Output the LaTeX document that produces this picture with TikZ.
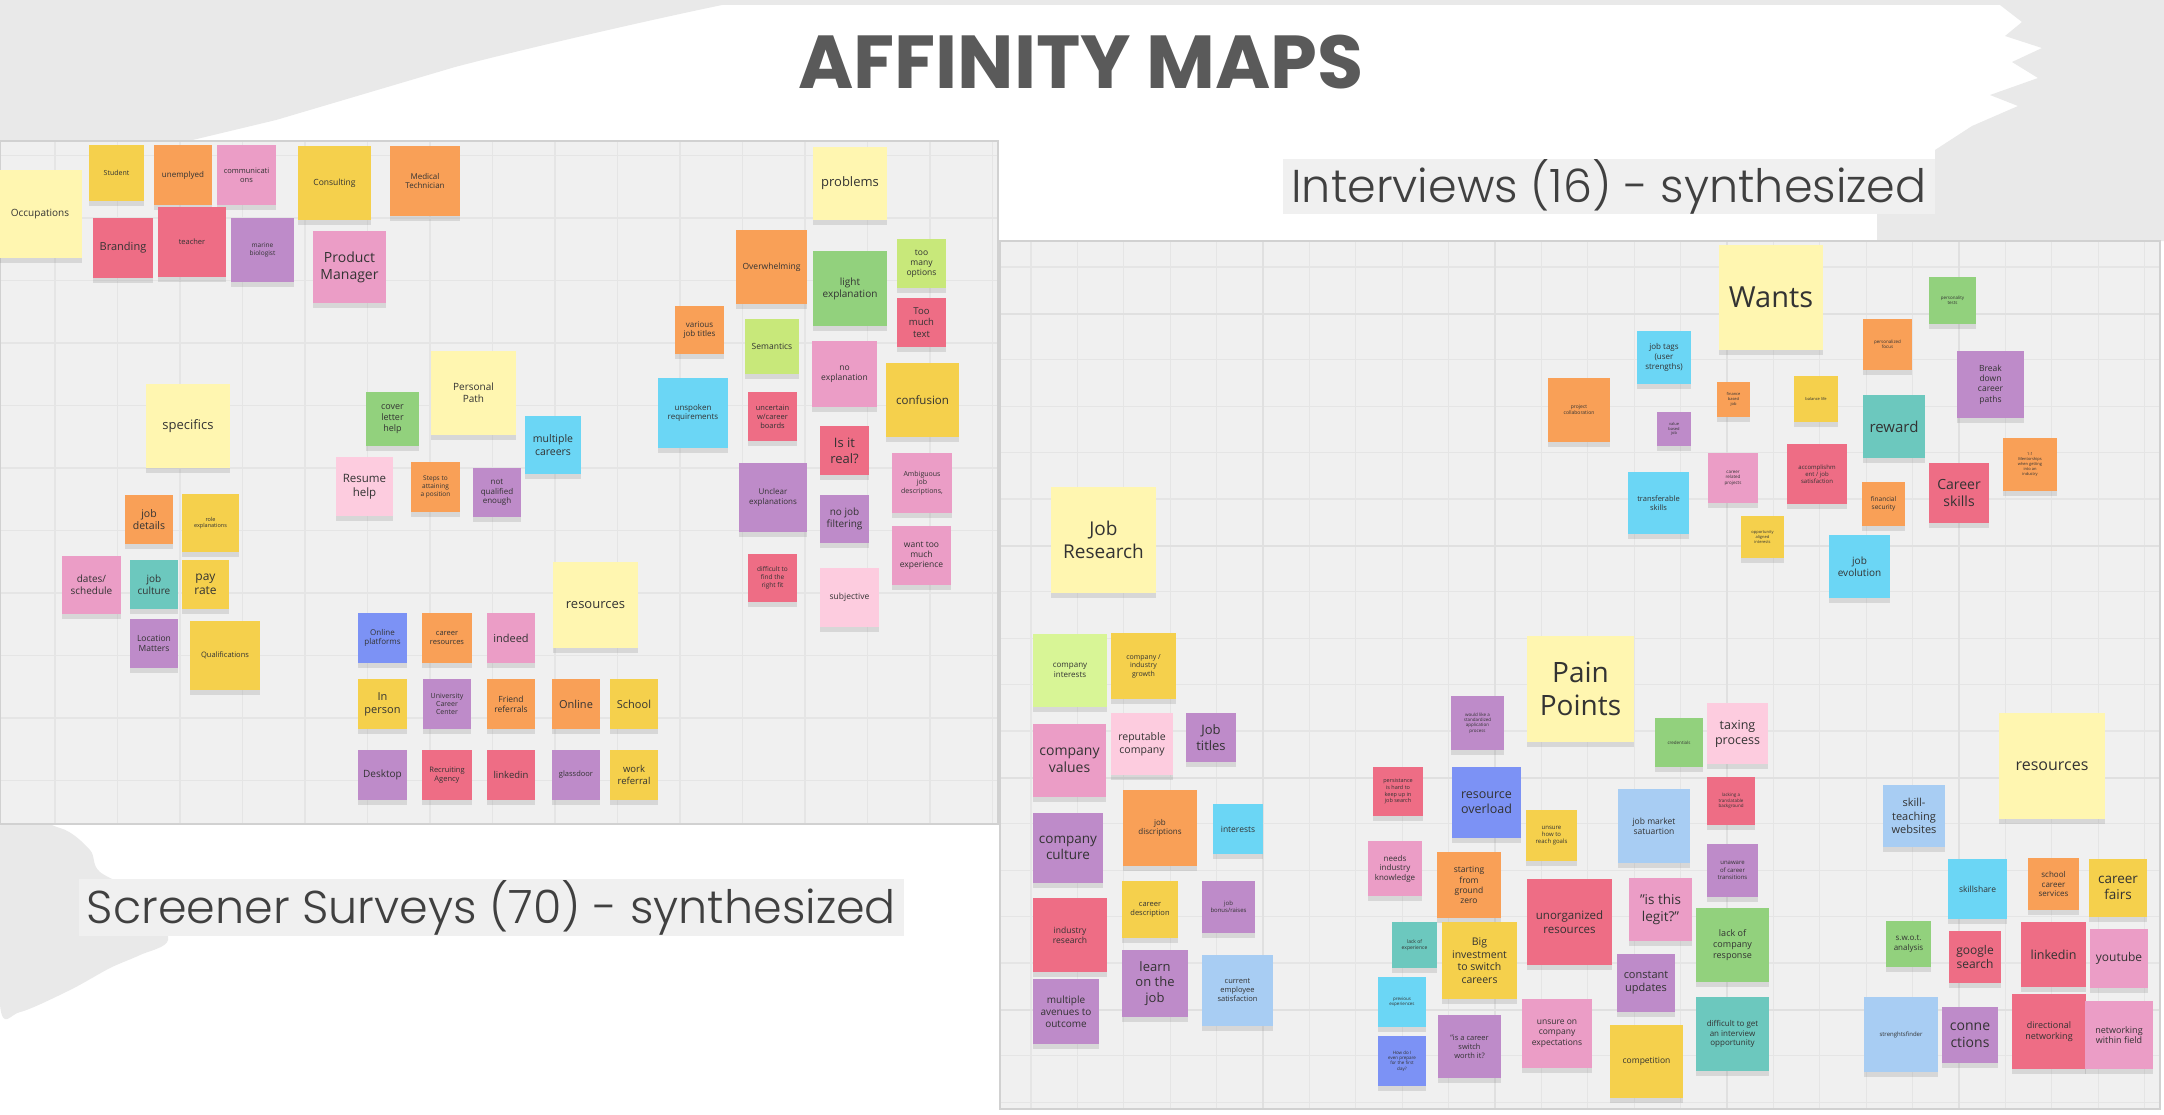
\documentclass[tikz,border=0pt]{standalone}
\usepackage{fontspec}
\setmainfont{Open Sans}
\newfontfamily\titlefont{Poppins}
\IfFontExistsTF{Poppins Light}{\newfontfamily\subfont{Poppins Light}}{\newfontfamily\subfont{Poppins}}
\usetikzlibrary{shadows}
\newcommand\fz[1]{\fontsize{\fpeval{#1*0.2845}pt}{\fpeval{#1*0.2845*1.2}pt}\selectfont}
\definecolor{lyel}{HTML}{FFF6B0}
\definecolor{yel}{HTML}{F5D04C}
\definecolor{ora}{HTML}{F9A057}
\definecolor{pnk}{HTML}{EB9DC6}
\definecolor{cor}{HTML}{EE6D85}
\definecolor{pur}{HTML}{BE8BC9}
\definecolor{grn}{HTML}{92D17D}
\definecolor{lim}{HTML}{C8E87A}
\definecolor{llim}{HTML}{D8F596}
\definecolor{cya}{HTML}{6BD6F5}
\definecolor{tea}{HTML}{6CC8BE}
\definecolor{lblu}{HTML}{A8CDF3}
\definecolor{peri}{HTML}{7C92F5}
\definecolor{lpnk}{HTML}{FDCCDF}
\definecolor{bgg}{HTML}{E9E9E9}
\definecolor{brd}{HTML}{F0F0F0}
\definecolor{ink}{HTML}{5A5A5A}
\tikzset{
  note/.style={align=center,inner sep=1pt,text=black!80,
    drop shadow={shadow xshift=0pt,shadow yshift=-1.4pt,opacity=.22}},
  wh/.style 2 args={minimum width=#1*0.01cm,minimum height=#2*0.01cm},
  fz/.style={font=\fz{#1}},
  gridl/.style={draw=black!10,line width=0.3pt},
  gridm/.style={draw=black!12,line width=0.4pt},
  lab/.style={fill=brd,inner sep=0pt,text=black!75,font={\subfont\fz{46}}}
}
\begin{document}
\begin{tikzpicture}[x=0.01cm,y=-0.01cm]
\useasboundingbox (0,0) rectangle (2164,1114);
\fill[white] (0,0) rectangle (2164,1114);
\fill[bgg] (0,0) rectangle (2164,5);
\fill[bgg] (0,0) -- (722,0) -- (722,5) .. controls (640,22) and (520,50) .. (455,67)
  -- (276,120) -- (180,143) -- (0,143) -- cycle;
\fill[bgg] (2000,0) -- (2000,5) -- (2022,22) -- (2005,36) -- (2042,48) -- (2012,62)
  -- (2038,78) -- (1990,95) -- (2018,106) -- (1972,126) -- (1935,150) -- (1935,214)
  -- (1877,214) -- (1877,241) -- (2164,241) -- (2164,0) -- cycle;
\fill[bgg] plot[smooth cycle] coordinates {(0,826) (60,828) (90,850) (100,872)
  (150,900) (168,940) (140,955) (110,968) (70,990) (20,1012) (0,1005)};
\fill[brd] (0,141) rectangle (998,824);
\foreach \gx in {55,117.5,...,998} \draw[gridl] (\gx,141) -- (\gx,824);
\foreach \gy in {155.5,218,...,824} \draw[gridl] (0,\gy) -- (998,\gy);
\draw[black!18] (0,141) rectangle (998,824);
\fill[brd] (1000,241) rectangle (2160,1109);
\foreach \gx in {1031,1077.4,...,2160} \draw[gridl] (\gx,241) -- (\gx,1109);
\foreach \gy in {267,313.4,...,1109} \draw[gridl] (1000,\gy) -- (2160,\gy);
\foreach \gx in {1263,1495,1727,1959} \draw[gridm] (\gx,241) -- (\gx,1109);
\foreach \gy in {314,546,778,1010} \draw[gridm] (1000,\gy) -- (2160,\gy);
\draw[black!18] (1000,241) rectangle (2160,1109);
\node[text=ink,font={\titlefont\bfseries\fz{75}}] (title) at (1081,62) {AFFINITY MAPS};
\node[lab,wh={652}{55}] (intlab) at (1609,186.5) {Interviews (16) - synthesized};
\node[lab,wh={825}{57}] (scrlab) at (491.5,907.5) {Screener Surveys (70) - synthesized};
\node[note,fill=lyel,wh={84}{88},fz=10] (occ) at (40,214) {Occupations};
\node[note,fill=yel,wh={55}{56},fz=7] (student) at (116.5,173) {Student};
\node[note,fill=ora,wh={58}{60},fz=8] (unemp) at (183,175) {unemplyed};
\node[note,fill=pnk,wh={59}{60},fz=7.5] (comm) at (246.5,175) {communicati\\ons};
\node[note,fill=yel,wh={73}{74},fz=8.5] (consult) at (334.5,183) {Consulting};
\node[note,fill=ora,wh={70}{70},fz=8] (medtech) at (425,181) {Medical\\Technician};
\node[note,fill=cor,wh={60}{60},fz=11] (brand) at (123,248) {Branding};
\node[note,fill=cor,wh={68}{70},fz=7.5] (teacher) at (192,242) {teacher};
\node[note,fill=pur,wh={63}{64},fz=6.5] (marine) at (262.5,250) {marine\\biologist};
\node[note,fill=pnk,wh={73}{72},fz=14] (prodman) at (349.5,267) {Product\\Manager};
\node[note,fill=lyel,wh={74}{73},fz=13] (problems) at (850,183.5) {problems};
\node[note,fill=ora,wh={71}{74},fz=8.5] (overwh) at (771.5,267) {Overwhelming};
\node[note,fill=grn,wh={74}{75},fz=10] (lightexp) at (850,288.5) {light\\explanation};
\node[note,fill=lim,wh={49}{49},fz=8.5] (toomany) at (921.5,263.5) {too\\many\\options};
\node[note,fill=cor,wh={49}{49},fz=9.5] (toomuch) at (921.5,322.5) {Too\\much\\text};
\node[note,fill=ora,wh={49}{48},fz=8] (various) at (699.5,330) {various\\job titles};
\node[note,fill=lim,wh={54}{55},fz=8.5] (semantics) at (772,346.5) {Semantics};
\node[note,fill=pnk,wh={65}{66},fz=8.5] (noexp) at (844.5,374) {no\\explanation};
\node[note,fill=yel,wh={73}{74},fz=11.5] (confusion) at (922.5,400) {confusion};
\node[note,fill=cya,wh={70}{70},fz=8] (unspoken) at (693,413) {unspoken\\requirements};
\node[note,fill=cor,wh={49}{49},fz=7.5] (uncertain) at (772.5,416.5) {uncertain\\w/career\\boards};
\node[note,fill=cor,wh={49}{49},fz=13] (isreal) at (844.5,450.5) {Is it\\real?};
\node[note,fill=pur,wh={68}{69},fz=8] (unclear) at (773,497.5) {Unclear\\explanations};
\node[note,fill=pnk,wh={60}{60},fz=7] (ambig) at (922,483) {Ambiguous\\job\\descriptions,};
\node[note,fill=pur,wh={49}{48},fz=10] (nofilter) at (844.5,519) {no job\\filtering};
\node[note,fill=pnk,wh={59}{59},fz=8.5] (wanttoo) at (921.5,555.5) {want too\\much\\experience};
\node[note,fill=cor,wh={49}{48},fz=6.5] (rightfit) at (772.5,578) {difficult to\\find the\\right fit};
\node[note,fill=lpnk,wh={59}{59},fz=8.5] (subjective) at (849.5,597.5) {subjective};
\node[note,fill=lyel,wh={84}{84},fz=13] (specifics) at (188,426) {specifics};
\node[note,fill=grn,wh={53}{54},fz=9] (cover) at (392.5,419) {cover\\letter\\help};
\node[note,fill=lyel,wh={85}{84},fz=10] (perspath) at (473.5,393) {Personal\\Path};
\node[note,fill=cya,wh={56}{58},fz=10.5] (multcar) at (553,445) {multiple\\careers};
\node[note,fill=lpnk,wh={57}{59},fz=11.5] (resume) at (364.5,486.5) {Resume\\help};
\node[note,fill=ora,wh={49}{50},fz=6.5] (steps) at (435.5,487) {Steps to\\attaining\\a position};
\node[note,fill=pur,wh={48}{49},fz=8] (notqual) at (497,492.5) {not\\qualified\\enough};
\node[note,fill=ora,wh={48}{49},fz=10.5] (jobdet) at (149,519.5) {job\\details};
\node[note,fill=yel,wh={57}{58},fz=5.5] (roleexp) at (210.5,523) {role\\explanations};
\node[note,fill=pnk,wh={59}{58},fz=10] (dates) at (91.5,585) {dates/\\schedule};
\node[note,fill=tea,wh={48}{49},fz=10] (jobcult) at (154,584.5) {job\\culture};
\node[note,fill=yel,wh={47}{49},fz=12] (payrate) at (205.5,584.5) {pay\\rate};
\node[note,fill=pur,wh={48}{49},fz=8.5] (location) at (154,643.5) {Location\\Matters};
\node[note,fill=yel,wh={70}{69},fz=7.5] (qualif) at (225,655.5) {Qualifications};
\node[note,fill=lyel,wh={85}{86},fz=13] (lres) at (595.5,605) {resources};
\node[note,fill=peri,wh={49}{50},fz=8] (onlplat) at (382.5,638) {Online\\platforms};
\node[note,fill=ora,wh={50}{50},fz=7.5] (carres) at (447,638) {career\\resources};
\node[note,fill=pnk,wh={48}{50},fz=11] (indeed) at (511,638) {indeed};
\node[note,fill=yel,wh={49}{50},fz=11] (inperson) at (382.5,704) {In\\person};
\node[note,fill=pur,wh={48}{50},fz=7] (ucc) at (447,704) {University\\Career\\Center};
\node[note,fill=ora,wh={48}{50},fz=8.5] (friend) at (511,704) {Friend\\referrals};
\node[note,fill=ora,wh={48}{50},fz=11] (online) at (576,704) {Online};
\node[note,fill=yel,wh={48}{50},fz=11] (school) at (634,704) {School};
\node[note,fill=pur,wh={49}{50},fz=10] (desktop) at (382.5,775) {Desktop};
\node[note,fill=cor,wh={50}{50},fz=7.5] (recruit) at (447,775) {Recruiting\\Agency};
\node[note,fill=cor,wh={48}{50},fz=9.5] (llinked) at (511,775) {linkedin};
\node[note,fill=pur,wh={48}{50},fz=7.5] (glass) at (576,775) {glassdoor};
\node[note,fill=yel,wh={48}{50},fz=9.5] (workref) at (634,775) {work\\referral};
\node[note,fill=lyel,wh={105}{106},fz=19] (jobres) at (1103.5,540) {Job\\Research};
\node[note,fill=ora,wh={62}{64},fz=5] (projcol) at (1579,410) {project\\collaboration};
\node[note,fill=lyel,wh={104}{105},fz=29] (wants) at (1771,297.5) {Wants};
\node[note,fill=cya,wh={54}{53},fz=8] (jobtags) at (1664,357.5) {job tags\\(user\\strengths)};
\node[note,fill=ora,wh={33}{35},fz=4] (finance) at (1733.5,399.5) {finance\\based\\job};
\node[note,fill=pur,wh={34}{34},fz=4] (valuejob) at (1674,429) {value\\based\\job};
\node[note,fill=yel,wh={44}{46},fz=4] (balance) at (1816,399) {balance life};
\node[note,fill=ora,wh={49}{51},fz=4.5] (persfocus) at (1887.5,344.5) {personalized\\focus};
\node[note,fill=grn,wh={47}{47},fz=4.5] (perstests) at (1952.5,300.5) {personality\\tests};
\node[note,fill=pur,wh={67}{67},fz=8.5] (breakdown) at (1990.5,384.5) {Break\\down\\career\\paths};
\node[note,fill=tea,wh={62}{63},fz=15] (reward) at (1894,426.5) {reward};
\node[note,fill=ora,wh={54}{53},fz=4] (mentor) at (2030,464.5) {1:1\\Mentorships\\when getting\\into an\\industry};
\node[note,fill=cya,wh={61}{62},fz=7.5] (transf) at (1658.5,503) {transferable\\skills};
\node[note,fill=pnk,wh={50}{50},fz=4.5] (carrel) at (1733,478) {career\\related\\projects};
\node[note,fill=cor,wh={60}{60},fz=6] (accompl) at (1817,474) {accomplishm\\ent / job\\satisfaction};
\node[note,fill=ora,wh={43}{44},fz=6.5] (finsec) at (1883.5,504) {financial\\security};
\node[note,fill=cor,wh={60}{60},fz=14] (carskills) at (1959,493) {Career\\skills};
\node[note,fill=yel,wh={43}{42},fz=4] (opport) at (1762.5,537) {opportunity\\aligned\\interests};
\node[note,fill=cya,wh={61}{63},fz=10] (jobevol) at (1859.5,566.5) {job\\evolution};
\node[note,fill=llim,wh={74}{73},fz=8] (compint) at (1070,670.5) {company\\interests};
\node[note,fill=yel,wh={65}{66},fz=7] (compgrow) at (1143.5,666) {company /\\industry\\growth};
\node[note,fill=pnk,wh={73}{73},fz=14] (compval) at (1069.5,760.5) {company\\values};
\node[note,fill=lpnk,wh={62}{62},fz=10.5] (reput) at (1142,744) {reputable\\company};
\node[note,fill=pur,wh={50}{49},fz=13] (jobtitles) at (1211,737.5) {Job\\titles};
\node[note,fill=pur,wh={70}{70},fz=13.5] (compcult) at (1068,848) {company\\culture};
\node[note,fill=ora,wh={74}{76},fz=8] (jobdisc) at (1160,828) {job\\discriptions};
\node[note,fill=cya,wh={50}{50},fz=8.5] (interests) at (1238,829) {interests};
\node[note,fill=cor,wh={74}{74},fz=8.5] (indres) at (1070,935) {industry\\research};
\node[note,fill=yel,wh={56}{57},fz=7.5] (cardesc) at (1150,909.5) {career\\description};
\node[note,fill=pur,wh={53}{52},fz=6] (bonus) at (1228.5,907) {job\\bonus/raises};
\node[note,fill=pur,wh={66}{65},fz=10] (multav) at (1066,1011.5) {multiple\\avenues to\\outcome};
\node[note,fill=pur,wh={66}{67},fz=13] (learn) at (1155,983.5) {learn\\on the\\job};
\node[note,fill=lblu,wh={71}{71},fz=7.5] (curemp) at (1237.5,990.5) {current\\employee\\satisfaction};
\node[note,fill=lyel,wh={107}{106},fz=28] (pain) at (1580.5,689) {Pain\\Points};
\node[note,fill=pur,wh={53}{54},fz=4.5] (standard) at (1477.5,723) {would like a\\standardized\\application\\process};
\node[note,fill=grn,wh={48}{49},fz=4.5] (cred) at (1679,742.5) {credentials};
\node[note,fill=lpnk,wh={61}{61},fz=12.5] (taxing) at (1737.5,733.5) {taxing\\process};
\node[note,fill=cor,wh={50}{49},fz=5.5] (persist) at (1398,791.5) {persistance\\is hard to\\keep up in\\job search};
\node[note,fill=peri,wh={69}{71},fz=12.5] (overload) at (1486.5,802.5) {resource\\overload};
\node[note,fill=yel,wh={51}{51},fz=6] (unsurehow) at (1551.5,835.5) {unsure\\how to\\reach goals};
\node[note,fill=lblu,wh={72}{74},fz=8.5] (jobmkt) at (1654,826) {job market\\satuartion};
\node[note,fill=cor,wh={48}{48},fz=4.5] (lacking) at (1731,801) {lacking a\\translatable\\background};
\node[note,fill=pnk,wh={54}{55},fz=8] (needs) at (1395,868.5) {needs\\industry\\knowledge};
\node[note,fill=ora,wh={64}{66},fz=8.5] (ground) at (1469,885) {starting\\from\\ground\\zero};
\node[note,fill=cor,wh={85}{86},fz=11.5] (unorg) at (1569.5,922) {unorganized\\resources};
\node[note,fill=pnk,wh={63}{63},fz=13.5] (legit) at (1660.5,909.5) {"is this\\legit?"};
\node[note,fill=pur,wh={51}{53},fz=6] (unaware) at (1732.5,870.5) {unaware\\of career\\transitions};
\node[note,fill=tea,wh={45}{46},fz=5] (lackexp) at (1414.5,945) {lack of\\experience};
\node[note,fill=yel,wh={75}{77},fz=10.5] (biginv) at (1479.5,960.5) {Big\\investment\\to switch\\careers};
\node[note,fill=grn,wh={73}{74},fz=9] (lackresp) at (1732.5,945) {lack of\\company\\response};
\node[note,fill=pur,wh={58}{58},fz=11] (constant) at (1646,983) {constant\\updates};
\node[note,fill=cya,wh={48}{50},fz=4.5] (prevexp) at (1402,1002) {previous\\experiences};
\node[note,fill=pur,wh={63}{63},fz=7.5] (worth) at (1469.5,1046.5) {"is a career\\switch\\worth it?};
\node[note,fill=pnk,wh={70}{69},fz=8.5] (unsureon) at (1557,1033.5) {unsure on\\company\\expectations};
\node[note,fill=yel,wh={73}{73},fz=8.5] (compet) at (1646.5,1061.5) {competition};
\node[note,fill=tea,wh={73}{74},fz=8] (interview) at (1732.5,1034) {difficult to get\\an interview\\opportunity};
\node[note,fill=peri,wh={48}{50},fz=4.5] (firstday) at (1402,1061) {How do I\\even prepare\\for the first\\day?};
\node[note,fill=lyel,wh={106}{106},fz=16] (rres) at (2052,766) {resources};
\node[note,fill=lblu,wh={62}{62},fz=11] (skillweb) at (1914,816) {skill-\\teaching\\websites};
\node[note,fill=cya,wh={59}{60},fz=8.5] (skillshare) at (1977.5,889) {skillshare};
\node[note,fill=ora,wh={51}{52},fz=8] (schoolcs) at (2053.5,884) {school\\career\\services};
\node[note,fill=yel,wh={58}{58},fz=13.5] (fairs) at (2118,888) {career\\fairs};
\node[note,fill=grn,wh={45}{46},fz=8] (swot) at (1908.5,944) {s.w.o.t.\\analysis};
\node[note,fill=cor,wh={52}{52},fz=12] (google) at (1975,957) {google\\search};
\node[note,fill=cor,wh={65}{65},fz=12.5] (rlinked) at (2053.5,954.5) {linkedin};
\node[note,fill=pnk,wh={58}{59},fz=12] (youtube) at (2119,958.5) {youtube};
\node[note,fill=lblu,wh={74}{75},fz=6] (strength) at (1901,1034.5) {strenghtsfinder};
\node[note,fill=pur,wh={56}{56},fz=14] (connect) at (1970,1035) {conne\\ctions};
\node[note,fill=cor,wh={74}{75},fz=9] (direct) at (2049,1031.5) {directional\\networking};
\node[note,fill=pnk,wh={68}{68},fz=9] (netfield) at (2119,1035) {networking\\within field};
\end{tikzpicture}
\end{document}
